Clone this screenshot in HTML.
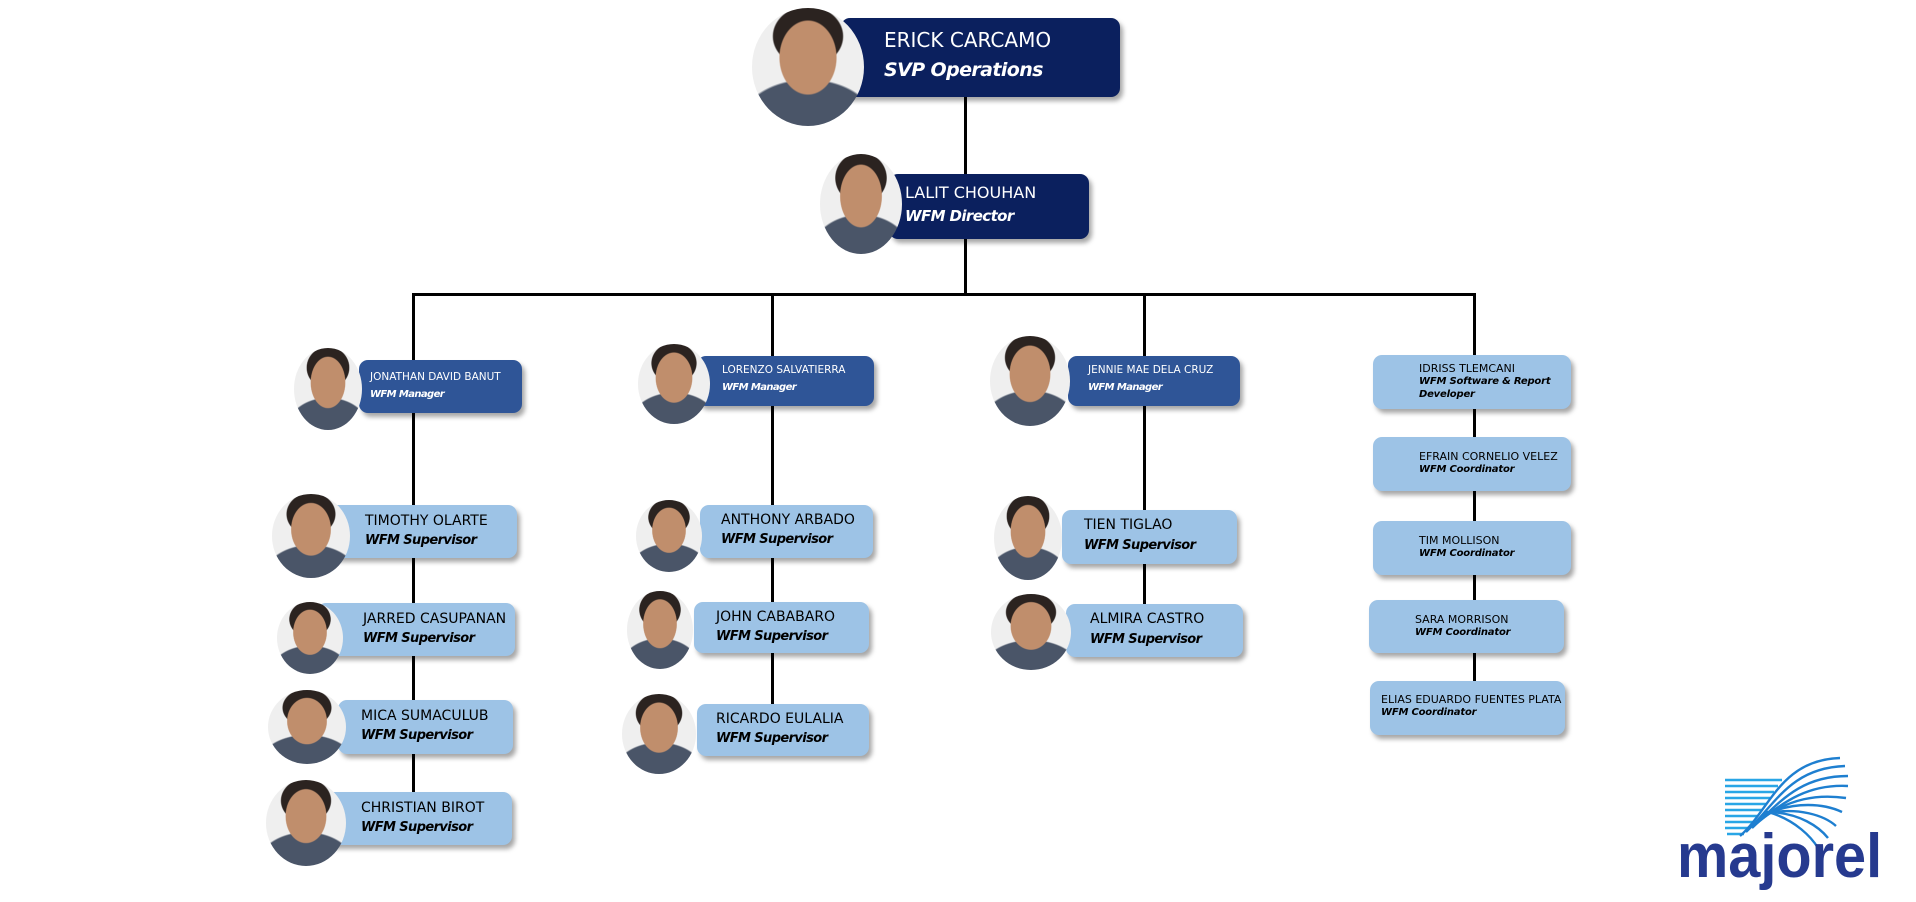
<!DOCTYPE html>
<html><head><meta charset="utf-8">
<style>
html,body{margin:0;padding:0;background:#fff;}
body{width:1916px;height:896px;position:relative;overflow:hidden;font-family:"DejaVu Sans","Liberation Sans",sans-serif;}
.l{position:absolute;background:#000;}
.b{position:absolute;border-radius:9px;box-shadow:3px 4px 5px rgba(0,0,0,.35);box-sizing:border-box;}
.nv{background:#0b205e;color:#fff;}
.md{background:#2f5597;color:#fff;}
.lt{background:#9dc3e6;color:#000;}
.t{position:absolute;white-space:nowrap;}
.n{display:block;}
.r{display:block;font-weight:bold;font-style:italic;letter-spacing:-0.6px;}
.ph{position:absolute;border-radius:50%;overflow:hidden;
background:
radial-gradient(ellipse 26% 32% at 50% 42%, #c08e6c 96%, transparent 100%),
radial-gradient(ellipse 32% 26% at 50% 24%, #2b2320 96%, transparent 100%),
radial-gradient(ellipse 62% 40% at 50% 100%, #4a5568 96%, transparent 100%),
#efefef;}
</style></head><body>

<div class="l" style="left:964px;top:95px;width:3px;height:200px"></div>
<div class="l" style="left:412px;top:293px;width:1064px;height:3px"></div>
<div class="l" style="left:412px;top:293px;width:3px;height:510px"></div>
<div class="l" style="left:771px;top:293px;width:3px;height:420px"></div>
<div class="l" style="left:1143px;top:293px;width:3px;height:320px"></div>
<div class="l" style="left:1473px;top:293px;width:3px;height:400px"></div>

<div class="b nv" style="left:841px;top:18px;width:279px;height:79px"><div class="t" style="left:43px;top:10px"><span class="n" style="font-size:20px">ERICK CARCAMO</span><span class="r" style="font-size:19px;margin-top:7px">SVP Operations</span></div></div>
<div class="ph" style="left:752px;top:8px;width:112px;height:118px"></div>

<div class="b nv" style="left:889px;top:174px;width:200px;height:65px"><div class="t" style="left:16px;top:9px"><span class="n" style="font-size:16px">LALIT CHOUHAN</span><span class="r" style="font-size:15px;margin-top:5px">WFM Director</span></div></div>
<div class="ph" style="left:820px;top:154px;width:82px;height:100px"></div>

<div class="b md" style="left:359px;top:360px;width:163px;height:53px"><div class="t" style="left:11px;top:11px"><span class="n" style="font-size:10.5px">JONATHAN DAVID BANUT</span><span class="r" style="font-size:10px;margin-top:6px">WFM Manager</span></div></div>
<div class="ph" style="left:294px;top:348px;width:68px;height:82px"></div>

<div class="b md" style="left:697px;top:356px;width:177px;height:50px"><div class="t" style="left:25px;top:8px"><span class="n" style="font-size:10.5px">LORENZO SALVATIERRA</span><span class="r" style="font-size:10px;margin-top:6px">WFM Manager</span></div></div>
<div class="ph" style="left:638px;top:344px;width:72px;height:80px"></div>

<div class="b md" style="left:1068px;top:356px;width:172px;height:50px"><div class="t" style="left:20px;top:8px"><span class="n" style="font-size:10.5px">JENNIE MAE DELA CRUZ</span><span class="r" style="font-size:10px;margin-top:6px">WFM Manager</span></div></div>
<div class="ph" style="left:990px;top:336px;width:80px;height:90px"></div>

<div class="b lt" style="left:323px;top:505px;width:194px;height:53px"><div class="t" style="left:42px;top:8px"><span class="n" style="font-size:14px">TIMOTHY OLARTE</span><span class="r" style="font-size:13px;margin-top:4px">WFM Supervisor</span></div></div>
<div class="ph" style="left:272px;top:494px;width:78px;height:84px"></div>
<div class="b lt" style="left:317px;top:603px;width:198px;height:53px"><div class="t" style="left:46px;top:8px"><span class="n" style="font-size:14px">JARRED CASUPANAN</span><span class="r" style="font-size:13px;margin-top:4px">WFM Supervisor</span></div></div>
<div class="ph" style="left:277px;top:602px;width:66px;height:72px"></div>
<div class="b lt" style="left:338px;top:700px;width:175px;height:54px"><div class="t" style="left:23px;top:8px"><span class="n" style="font-size:14px">MICA SUMACULUB</span><span class="r" style="font-size:13px;margin-top:4px">WFM Supervisor</span></div></div>
<div class="ph" style="left:268px;top:690px;width:78px;height:74px"></div>
<div class="b lt" style="left:313px;top:792px;width:199px;height:53px"><div class="t" style="left:48px;top:8px"><span class="n" style="font-size:14px">CHRISTIAN BIROT</span><span class="r" style="font-size:13px;margin-top:4px">WFM Supervisor</span></div></div>
<div class="ph" style="left:266px;top:780px;width:80px;height:86px"></div>

<div class="b lt" style="left:700px;top:505px;width:173px;height:53px"><div class="t" style="left:21px;top:7px"><span class="n" style="font-size:14px">ANTHONY ARBADO</span><span class="r" style="font-size:13px;margin-top:4px">WFM Supervisor</span></div></div>
<div class="ph" style="left:636px;top:500px;width:66px;height:72px"></div>
<div class="b lt" style="left:694px;top:602px;width:175px;height:51px"><div class="t" style="left:22px;top:7px"><span class="n" style="font-size:14px">JOHN CABABARO</span><span class="r" style="font-size:13px;margin-top:4px">WFM Supervisor</span></div></div>
<div class="ph" style="left:627px;top:591px;width:66px;height:78px"></div>
<div class="b lt" style="left:697px;top:704px;width:172px;height:52px"><div class="t" style="left:19px;top:7px"><span class="n" style="font-size:14px">RICARDO EULALIA</span><span class="r" style="font-size:13px;margin-top:4px">WFM Supervisor</span></div></div>
<div class="ph" style="left:622px;top:694px;width:74px;height:80px"></div>

<div class="b lt" style="left:1062px;top:510px;width:175px;height:54px"><div class="t" style="left:22px;top:7px"><span class="n" style="font-size:14px">TIEN TIGLAO</span><span class="r" style="font-size:13px;margin-top:5px">WFM Supervisor</span></div></div>
<div class="ph" style="left:994px;top:496px;width:68px;height:84px"></div>
<div class="b lt" style="left:1066px;top:604px;width:177px;height:53px"><div class="t" style="left:24px;top:7px"><span class="n" style="font-size:14px">ALMIRA CASTRO</span><span class="r" style="font-size:13px;margin-top:5px">WFM Supervisor</span></div></div>
<div class="ph" style="left:991px;top:594px;width:80px;height:76px"></div>

<div class="b lt" style="left:1373px;top:355px;width:198px;height:54px"><div class="t" style="left:46px;top:7px;line-height:13px"><span class="n" style="font-size:11px">IDRISS TLEMCANI</span><span class="r" style="font-size:10px;letter-spacing:-0.2px">WFM Software &amp; Report<br>Developer</span></div></div>
<div class="b lt" style="left:1373px;top:437px;width:198px;height:54px"><div class="t" style="left:46px;top:13px;line-height:13px"><span class="n" style="font-size:11px">EFRAIN CORNELIO VELEZ</span><span class="r" style="font-size:10px;letter-spacing:-0.2px">WFM Coordinator</span></div></div>
<div class="b lt" style="left:1373px;top:521px;width:198px;height:54px"><div class="t" style="left:46px;top:13px;line-height:13px"><span class="n" style="font-size:11px">TIM MOLLISON</span><span class="r" style="font-size:10px;letter-spacing:-0.2px">WFM Coordinator</span></div></div>
<div class="b lt" style="left:1369px;top:600px;width:195px;height:53px"><div class="t" style="left:46px;top:13px;line-height:13px"><span class="n" style="font-size:11px">SARA MORRISON</span><span class="r" style="font-size:10px;letter-spacing:-0.2px">WFM Coordinator</span></div></div>
<div class="b lt" style="left:1370px;top:681px;width:195px;height:54px"><div class="t" style="left:11px;top:12px;line-height:13px"><span class="n" style="font-size:11px">ELIAS EDUARDO FUENTES PLATA</span><span class="r" style="font-size:10px;letter-spacing:-0.2px">WFM Coordinator</span></div></div>

<svg style="position:absolute;left:1700px;top:750px" width="160" height="110" viewBox="0 0 160 110">
<g stroke="#29a6e6" stroke-width="2.6" fill="none">
<line x1="25" y1="30" x2="82" y2="30"/><line x1="25" y1="36" x2="78" y2="36"/><line x1="25" y1="42" x2="74" y2="42"/><line x1="25" y1="48" x2="70" y2="48"/><line x1="25" y1="54" x2="66" y2="54"/><line x1="25" y1="60" x2="62" y2="60"/><line x1="25" y1="66" x2="58" y2="66"/><line x1="25" y1="72" x2="54" y2="72"/><line x1="25" y1="78" x2="50" y2="78"/><line x1="27" y1="84" x2="44" y2="84"/>
</g>
<g stroke="#1e7fd0" stroke-width="2.4" fill="none">
<path d="M40 86 C70 60 80 10 140 8"/><path d="M46 82 C75 55 90 18 145 16"/><path d="M52 78 C80 52 100 26 148 26"/><path d="M56 74 C85 50 110 34 148 36"/><path d="M60 70 C90 48 118 44 146 48"/><path d="M62 66 C95 50 125 54 142 62"/><path d="M64 64 C98 56 125 66 136 76"/><path d="M66 62 C100 62 120 78 128 88"/><path d="M68 62 C96 70 112 88 118 98"/>
</g>
</svg>
<div style="position:absolute;left:1677px;top:812px;font-family:'Liberation Sans',sans-serif;font-weight:bold;font-size:62px;color:#263a8f;transform:scaleX(0.93);transform-origin:0 0;line-height:90px;">majorel</div>

</body></html>
